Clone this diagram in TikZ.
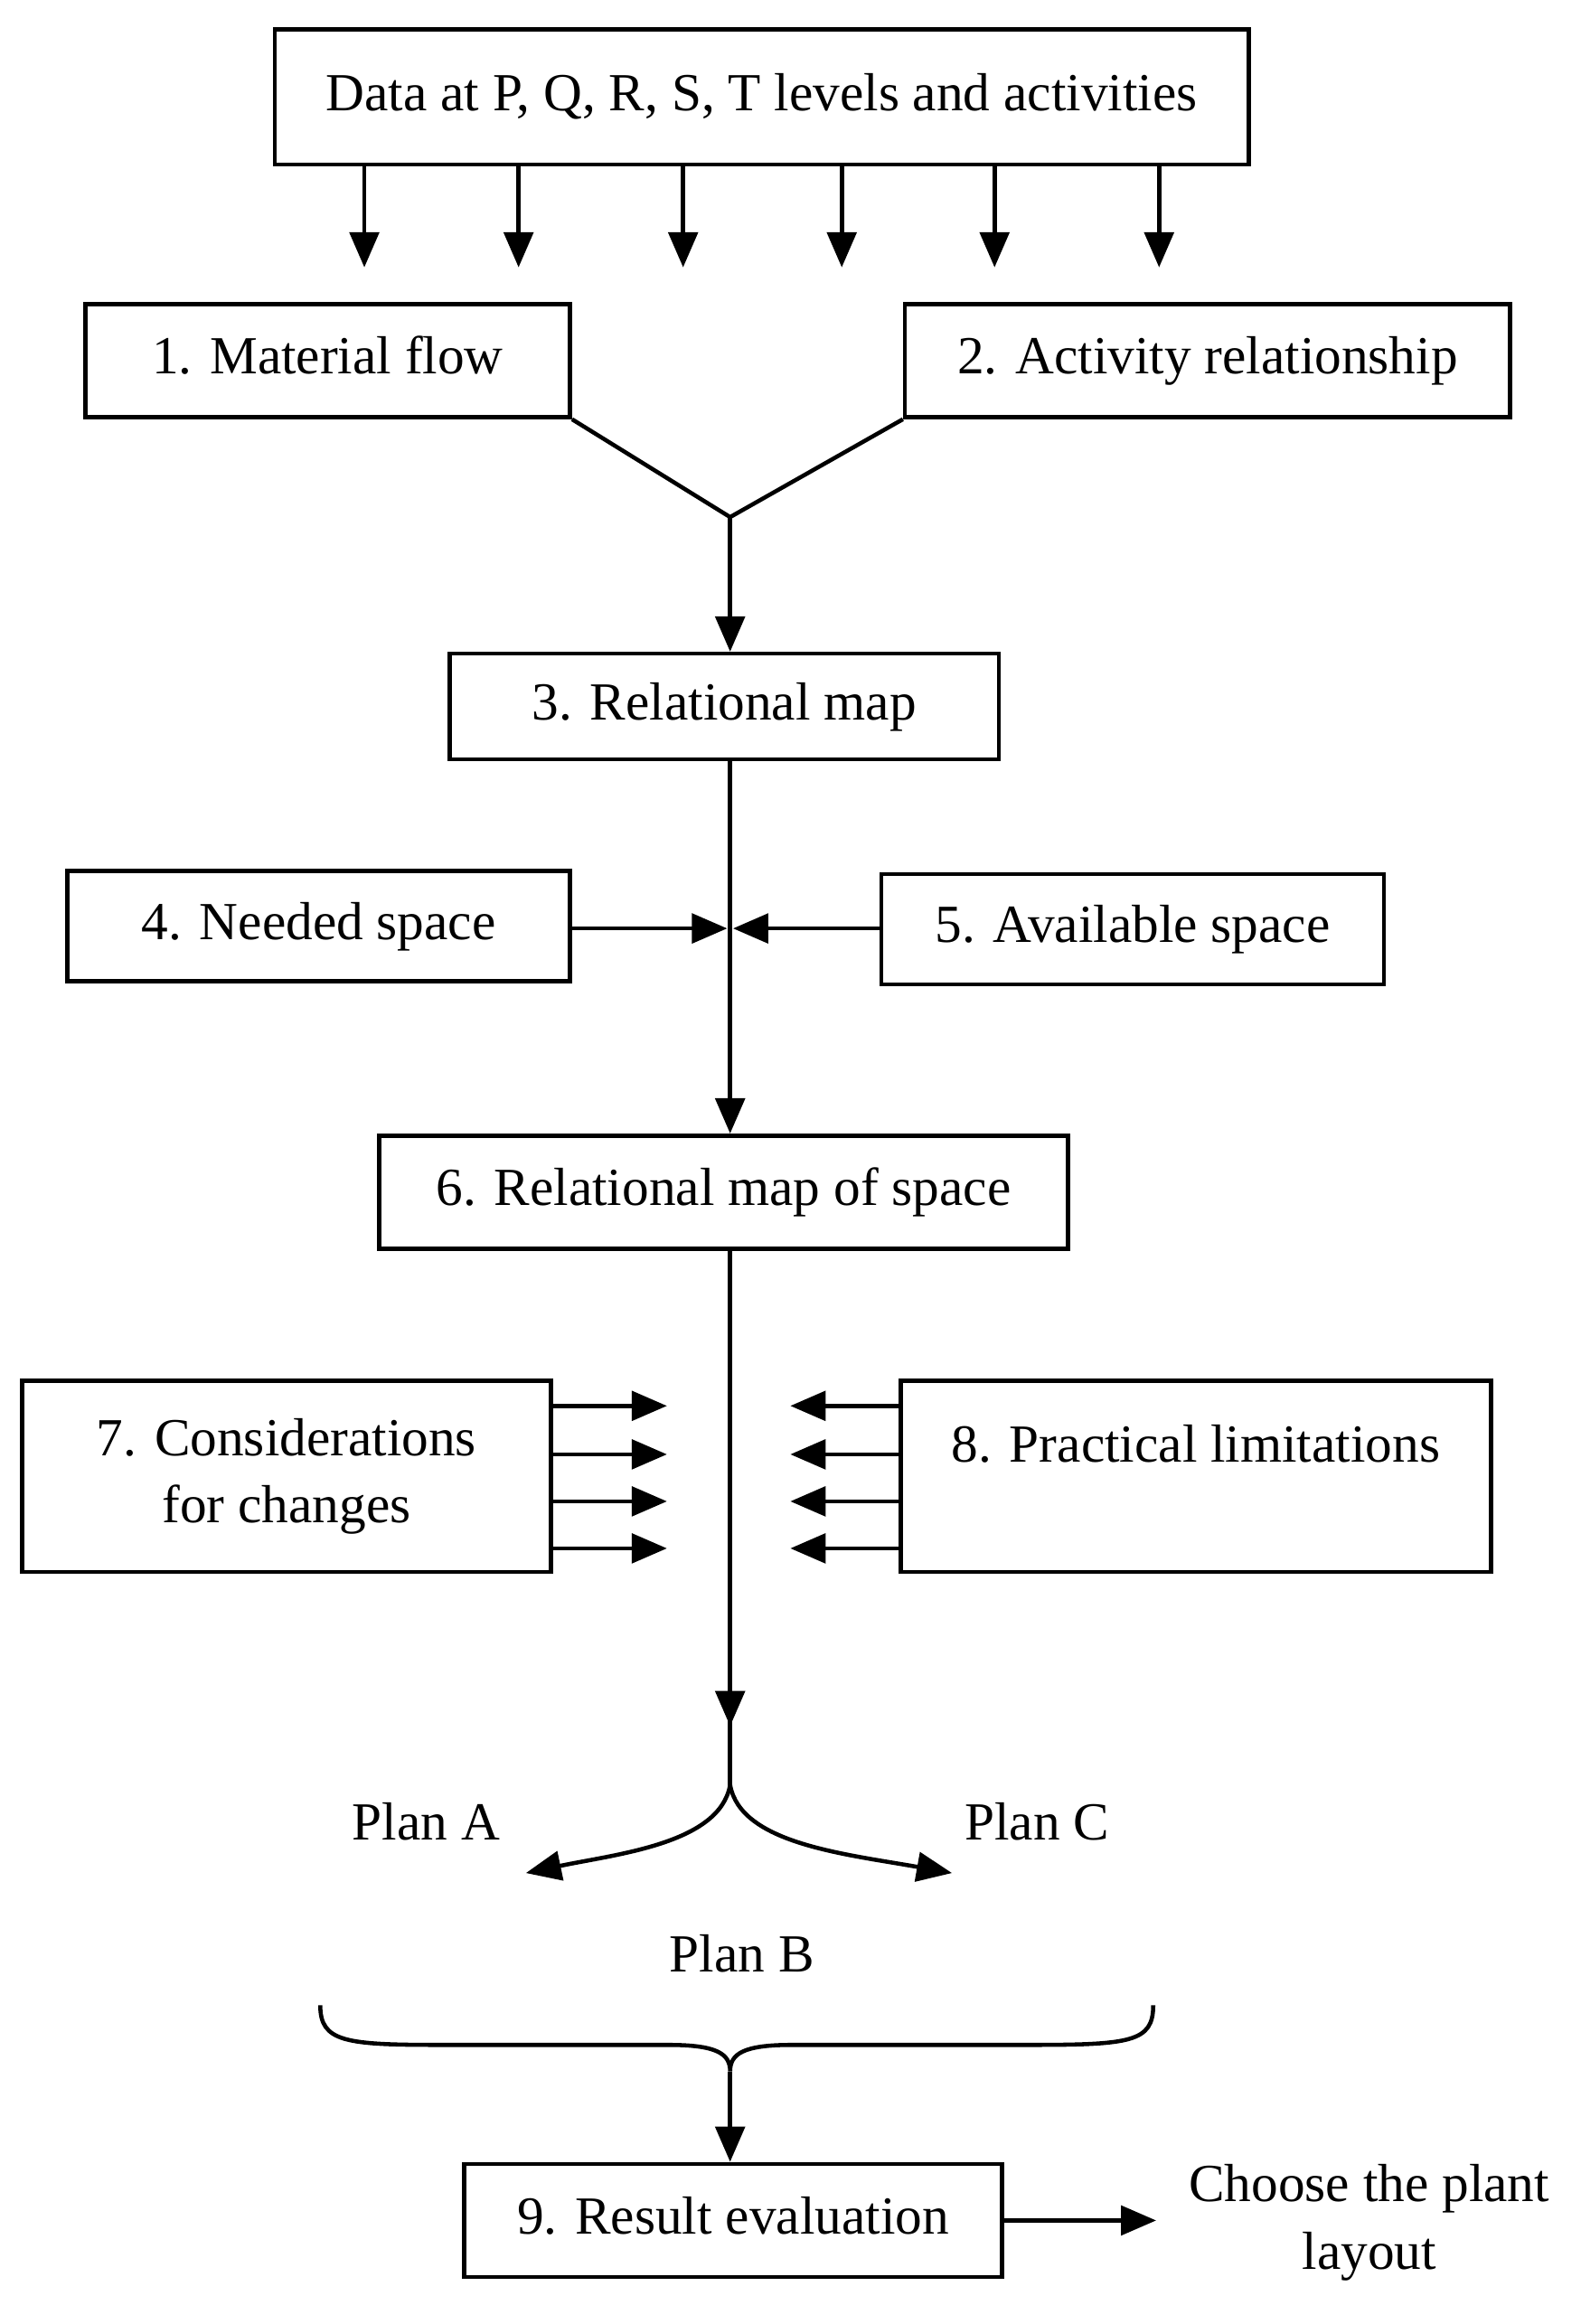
\documentclass[tikz,border=0pt]{standalone}
\usepackage{fontspec}
\setmainfont{Liberation Serif}
\usetikzlibrary{arrows.meta}
\tikzset{
  box/.style={draw, line width=2.8pt, rectangle, inner sep=0pt, align=center},
  ar/.style={line width=2.8pt, -{Triangle[length=24pt,width=20pt]}},
  ln/.style={line width=2.8pt},
  lbl/.style={align=center, inner sep=0pt}
}
\begin{document}
\begin{tikzpicture}[x=1pt, y=-1pt, font=\fontsize{36.5}{46}\selectfont]
\useasboundingbox (0,0) rectangle (1076,1582);
% Boxes
\node[box, minimum width=663pt, minimum height=92pt] (top) at (518.5,66) {\strut Data at P, Q, R, S, T levels and activities};
\node[box, minimum width=330pt, minimum height=77pt] (b1) at (223,245.5) {\strut 1. Material flow};
\node[box, minimum width=412pt, minimum height=77pt] (b2) at (822,245.5) {\strut 2. Activity relationship};
\node[box, minimum width=374pt, minimum height=72pt] (b3) at (493,481) {\strut 3. Relational map};
\node[box, minimum width=342pt, minimum height=75pt] (b4) at (217,630.5) {\strut 4. Needed space};
\node[box, minimum width=342pt, minimum height=75pt] (b5) at (771,632.5) {\strut 5. Available space};
\node[box, minimum width=469pt, minimum height=77pt] (b6) at (492.5,811.5) {\strut 6. Relational map of space};
\node[box, minimum width=360pt, minimum height=130pt] (b7) at (195,1005) {7. Considerations\\for changes};
\node[box, minimum width=402pt, minimum height=130pt] (b8) at (814,1005) {};
\node[lbl] (t8) at (814,983) {8. Practical limitations};
\node[box, minimum width=366pt, minimum height=77pt] (b9) at (499,1511.5) {\strut 9. Result evaluation};
\node[lbl] (pa) at (290,1240) {Plan A};
\node[lbl] (pc) at (706,1240) {Plan C};
\node[lbl] (pb) at (505,1330) {Plan B};
\node[lbl] (ch) at (932,1513) {Choose the plant\\layout};
% Arrows from data box
\foreach \x in {248,353,465,573,677,789}
  \draw[ar] (\x,112) -- (\x,182);
% Merge of 1 and 2
\coordinate (m12) at (497,352);
\draw[ln] (b1.south east) -- (m12) -- (b2.south west);
\draw[ar] (m12) -- (b3.north -| m12);
% 3 to 6 with side inputs
\coordinate (c45) at (497,632);
\draw[ar] (b3.south -| c45) -- (b6.north -| c45);
\draw[ar] (b4.east |- c45) -- (495,632);
\draw[ar] (b5.west |- c45) -- (499,632);
% 6 down to the plans
\coordinate (fork) at (497,1215);
\draw[ar] (b6.south -| fork) -- (497,1175);
\draw[ln] (497,1170) -- (fork);
\coordinate (ea) at (358,1275);
\coordinate (ec) at (648,1275);
\draw[ar] (fork) .. controls (490,1255) and (420,1262) .. (ea);
\draw[ar] (fork) .. controls (504,1255) and (575,1262) .. (ec);
% Side arrows of 7 and 8
\foreach \y in {957,990,1022,1054} {
  \draw[ar] (b7.east |- 0,\y) -- (454,\y);
  \draw[ar] (b8.west |- 0,\y) -- (538,\y);
}
% Brace
\coordinate (bt) at (497,1410);
\draw[ln] (218,1365) .. controls (218,1390) and (235,1392) .. (300,1392) -- (455,1392)
  .. controls (488,1392) and (497,1398) .. (bt)
  .. controls (497,1398) and (506,1392) .. (539,1392) -- (700,1392)
  .. controls (770,1392) and (785,1390) .. (785,1365);
\draw[ar] (bt) -- (b9.north -| bt);
\draw[ar] (b9.east) -- (787,1511.5);
\end{tikzpicture}
\end{document}
